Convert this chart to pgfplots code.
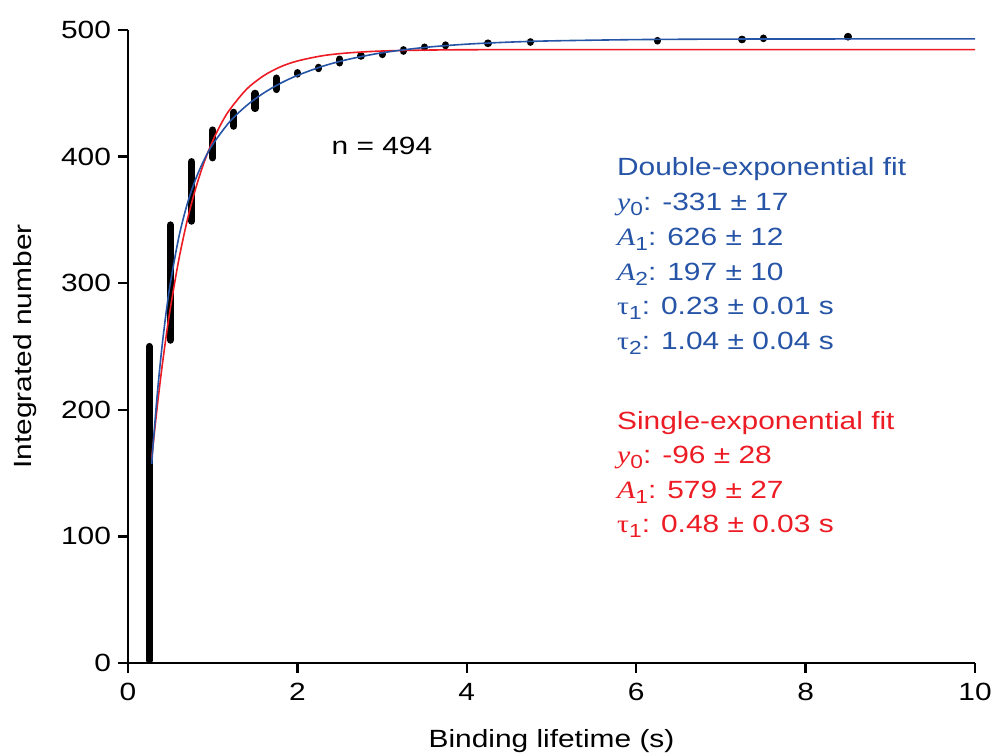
\documentclass[border=0pt]{standalone}
\usepackage{pgfplots}
\pgfplotsset{compat=1.18}
\usepackage{fontspec}
\setmainfont{Liberation Sans}[FakeStretch=1.2]
\newfontfamily\tnr{Liberation Serif}[FakeStretch=1.2]
\usetikzlibrary{calc}
\definecolor{fitblue}{RGB}{38,84,166}
\definecolor{fitred}{RGB}{237,28,36}
\newcommand\sub[1]{\raisebox{-2.5bp}{\fontsize{9.5}{10}\selectfont #1}}
\newcommand\fs{\fontsize{12.5}{15}\selectfont}
\begin{document}
\begin{tikzpicture}
\begin{axis}[
  scale only axis, width=423.5bp, height=316.5bp,
  xmin=0, xmax=10, ymin=0, ymax=500,
  axis x line*=bottom, axis y line*=left,
  axis line style={line width=1.2bp,-},
  every tick/.style={black,line width=1.2bp},
  tick align=outside, major tick length=5bp,
  xtick={0,2,4,6,8,10}, ytick={0,100,200,300,400,500},
  /pgf/number format/assume math mode=true,
  tick label style={font=\fs},
  xticklabel style={yshift=-1.5bp},
  every axis x label/.style={at={(axis description cs:0.5,-0.1343)},anchor=base,font=\fs},
  every axis y label/.style={at={(axis description cs:-0.1216,0.5)},rotate=90,anchor=center,font=\fs},
  xlabel={Binding lifetime (s)}, ylabel={Integrated number},
  clip=false,
  unbounded coords=jump,
]
% cumulative counts (dots merged into bars)
\addplot[black, line width=3.6bp, line cap=round] coordinates {
(0.25,2) (0.25,250) (0.25,nan)
(0.5,255) (0.5,346) (0.5,nan)
(0.75,349) (0.75,396) (0.75,nan)
(1.0,399) (1.0,421) (1.0,nan)
(1.25,424) (1.25,435) (1.25,nan)
(1.5,438) (1.5,450) (1.5,nan)
(1.75,453) (1.75,462) (1.75,nan)
(2.0,465.2) (2.0,466.3) (2.0,nan)
(2.25,469.5) (2.25,470.5) (2.25,nan)
(2.5,474) (2.5,477) (2.5,nan)
(2.75,479.3) (2.75,479.7) (2.75,nan)
(3.0,480.6) (3.0,481.0) (3.0,nan)
(3.25,483.2) (3.25,484.4) (3.25,nan)
(3.5,486.1) (3.5,486.5) (3.5,nan)
(3.75,487.6) (3.75,488.2) (3.75,nan)
(4.25,489.3) (4.25,489.7) (4.25,nan)
(4.75,490.3) (4.75,490.7) (4.75,nan)
(6.25,491.3) (6.25,491.7) (6.25,nan)
(7.25,492.3) (7.25,492.7) (7.25,nan)
(7.5,493.2) (7.5,493.6) (7.5,nan)
(8.5,494.5) (8.5,494.9)
};
% single-exponential fit
\addplot[fitred, line width=0.8bp, smooth] coordinates {
(0.28,161.4) (0.3,174.6) (0.35,205.3) (0.4,232.9) (0.45,257.8) (0.5,280.2)
(0.6,318.6) (0.7,349.8) (0.8,375.1) (0.9,395.7) (1.0,412.4) (1.1,426.0)
(1.2,437.0) (1.4,453.2) (1.6,463.8) (1.8,470.9) (2.0,475.5) (2.3,479.7)
(2.6,481.9) (3.0,483.4) (3.5,484.1) (4,484.4) (5,484.5) (7,484.5) (10,484.5)
};
% double-exponential fit
\addplot[fitblue, line width=0.8bp, smooth] coordinates {
(0.28,157.2) (0.3,175.5) (0.35,215.6) (0.4,248.9) (0.45,276.7) (0.5,300.0)
(0.6,336.3) (0.7,362.7) (0.8,382.4) (0.9,397.6) (1.0,409.6) (1.2,427.5)
(1.4,440.3) (1.6,450.1) (1.8,457.9) (2.0,464.1) (2.3,471.4) (2.6,476.8)
(3.0,482.0) (3.5,486.2) (4.0,488.8) (4.5,490.4) (5.0,491.4) (6.0,492.4)
(7.0,492.8) (8.0,492.9) (10,493.0)
};
\node[anchor=base west, inner sep=0, font=\fs] at (axis cs:2.40,402) {n = 494};
\begin{scope}[every node/.style={anchor=base west, inner sep=0, font=\fs, text=fitblue}]
\node at (axis cs:5.77,384.7) {Double-exponential fit};
\node at (axis cs:5.77,357.3) {{\tnr\itshape y}\sub{0}: -331 ± 17};
\node at (axis cs:5.77,329.9) {{\tnr\itshape A}\sub{1}: 626 ± 12};
\node at (axis cs:5.77,302.5) {{\tnr\itshape A}\sub{2}: 197 ± 10};
\node at (axis cs:5.77,275.1) {{\tnr τ}\sub{1}: 0.23 ± 0.01 s};
\node at (axis cs:5.77,247.7) {{\tnr τ}\sub{2}: 1.04 ± 0.04 s};
\end{scope}
\begin{scope}[every node/.style={anchor=base west, inner sep=0, font=\fs, text=fitred}]
\node at (axis cs:5.77,184.5) {Single-exponential fit};
\node at (axis cs:5.77,157.3) {{\tnr\itshape y}\sub{0}: -96 ± 28};
\node at (axis cs:5.77,130.1) {{\tnr\itshape A}\sub{1}: 579 ± 27};
\node at (axis cs:5.77,102.9) {{\tnr τ}\sub{1}: 0.48 ± 0.03 s};
\end{scope}
\end{axis}
\pgfresetboundingbox
\useasboundingbox ($(current axis.south west)+(-64bp,-46.5bp)$) rectangle ($(current axis.north east)+(10.5bp,15bp)$);
\end{tikzpicture}
\end{document}
